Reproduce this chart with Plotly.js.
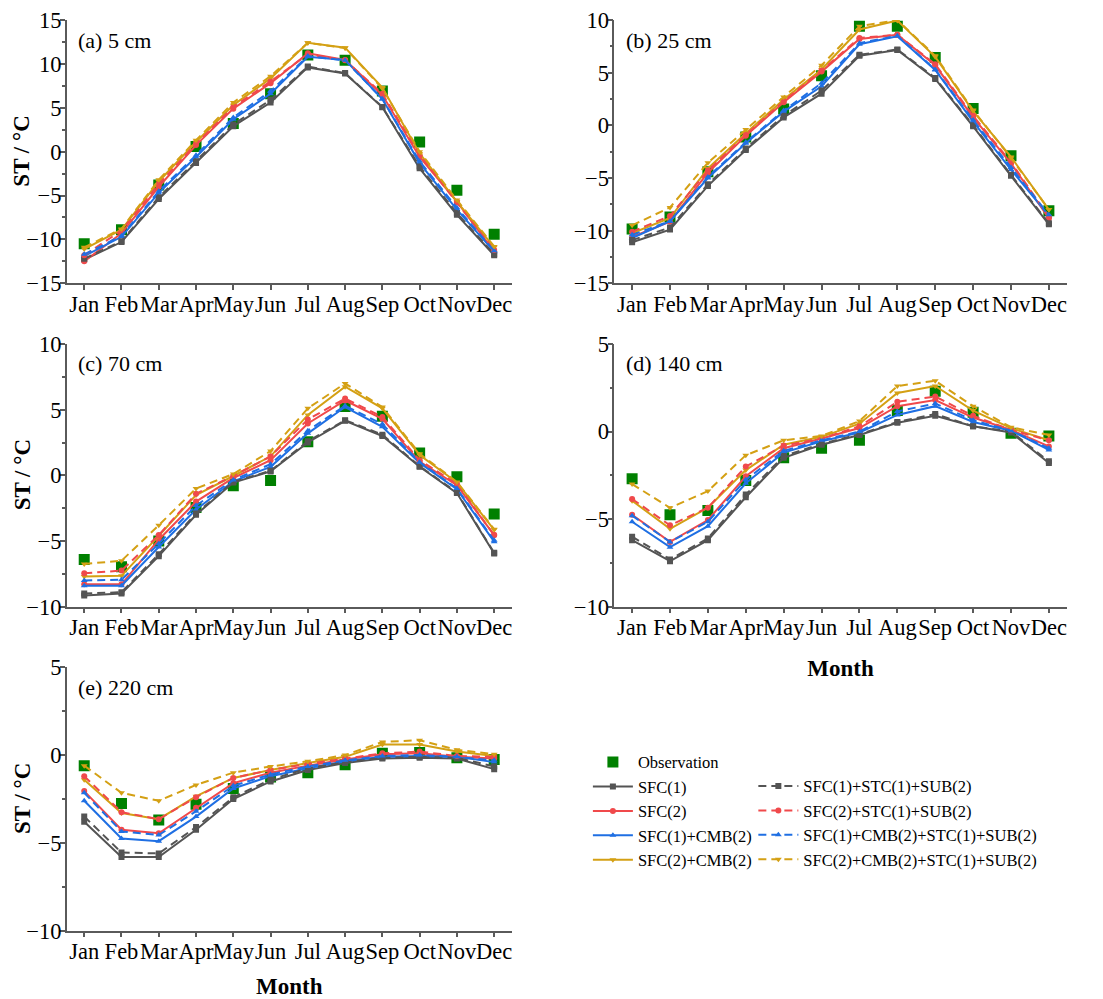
<!DOCTYPE html>
<html>
<head>
<meta charset="utf-8">
<script src="https://cdn.plot.ly/plotly-3.0.1.min.js"></script>
<style>html,body{margin:0;padding:0;background:#fff;}#chart{width:1103px;height:999px;}</style>
</head>
<body>
<div id="chart"></div>
<script>
const months = ['Jan','Feb','Mar','Apr','May','Jun','Jul','Aug','Sep','Oct','Nov','Dec'];

// (a) 5 cm
const obs_5          = [-10.5, -8.9, -3.8, 0.6, 3.2, 6.6, 11.0, 10.4, 6.9, 1.1, -4.4, -9.4];
const sfc1_5         = [-12.3, -10.3, -5.4, -1.3, 2.9, 5.6, 9.6, 8.9, 5.05, -1.9, -7.2, -11.8];
const sfc2_5         = [-12.5, -9.3, -4.0, 0.75, 4.9, 7.8, 11.2, 10.45, 6.45, -0.6, -5.7, -11.4];
const sfc1cmb2_5     = [-11.9, -9.7, -4.7, -0.6, 3.7, 6.6, 10.8, 10.45, 6.0, -1.3, -6.6, -11.4];
const sfc2cmb2_5     = [-11.1, -8.9, -3.4, 1.1, 5.3, 8.35, 12.4, 11.85, 7.3, -0.2, -5.7, -10.9];
const sfc1stc_5      = [-12.2, -10.2, -5.2, -1.1, 3.1, 5.9, 9.7, 8.95, 5.1, -1.7, -7.0, -11.7];
const sfc2stc_5      = [-11.8, -9.0, -3.7, 0.9, 5.1, 8.0, 11.1, 10.4, 6.6, -0.4, -5.8, -11.2];
const sfc1cmb2stc_5  = [-11.7, -9.6, -4.5, -0.4, 3.9, 6.9, 10.9, 10.4, 6.0, -1.1, -6.4, -11.3];
const sfc2cmb2stc_5  = [-10.9, -8.8, -3.2, 1.3, 5.6, 8.6, 12.4, 11.8, 7.2, 0.0, -5.5, -10.8];

// (b) 25 cm
const obs_25         = [-9.85, -8.7, -4.4, -1.1, 1.55, 4.7, 9.4, 9.4, 6.45, 1.6, -2.9, -8.1];
const sfc1_25        = [-11.1, -9.9, -5.75, -2.35, 0.75, 3.0, 6.6, 7.15, 4.4, -0.1, -4.8, -9.4];
const sfc2_25        = [-10.6, -9.15, -4.5, -1.0, 2.2, 5.1, 8.2, 8.6, 5.7, 0.75, -3.6, -8.85];
const sfc1cmb2_25    = [-10.7, -9.1, -5.0, -1.7, 1.3, 3.7, 7.7, 8.45, 5.25, 0.35, -4.2, -8.6];
const sfc2cmb2_25    = [-10.25, -8.8, -4.1, -0.75, 2.45, 5.3, 9.1, 9.95, 6.5, 1.35, -3.0, -8.0];
const sfc1stc_25     = [-10.9, -9.7, -5.6, -2.2, 0.9, 3.3, 6.7, 7.2, 4.5, 0.0, -4.7, -9.3];
const sfc2stc_25     = [-10.1, -8.6, -4.3, -0.9, 2.3, 5.2, 8.3, 8.6, 5.8, 0.9, -3.5, -8.7];
const sfc1cmb2stc_25 = [-10.4, -9.1, -4.9, -1.6, 1.4, 4.0, 7.8, 8.5, 5.3, 0.5, -4.0, -8.5];
const sfc2cmb2stc_25 = [-9.5, -7.8, -3.55, -0.4, 2.7, 5.7, 9.4, 10.0, 6.6, 1.45, -3.1, -8.0];

// (c) 70 cm
const obs_70         = [-6.4, -6.95, -5.0, -2.45, -0.8, -0.4, 2.55, 5.25, 4.5, 1.7, -0.1, -2.95];
const sfc1_70        = [-9.15, -9.0, -6.15, -3.0, -0.55, 0.3, 2.5, 4.15, 3.0, 0.65, -1.35, -5.95];
const sfc2_70        = [-8.3, -8.3, -4.9, -2.0, -0.2, 1.15, 3.95, 5.7, 4.3, 1.05, -0.75, -4.55];
const sfc1cmb2_70    = [-8.4, -8.4, -5.45, -2.6, -0.45, 0.65, 3.2, 5.2, 3.7, 0.95, -1.05, -5.05];
const sfc2cmb2_70    = [-7.7, -7.65, -4.6, -1.5, -0.05, 1.45, 4.6, 6.75, 5.1, 1.55, -0.55, -4.15];
const sfc1stc_70     = [-9.0, -8.9, -6.0, -2.9, -0.5, 0.35, 2.6, 4.2, 3.1, 0.7, -1.3, -5.9];
const sfc2stc_70     = [-7.45, -7.25, -4.55, -1.4, -0.05, 1.45, 4.25, 5.85, 4.45, 1.15, -0.65, -4.55];
const sfc1cmb2stc_70 = [-8.0, -7.95, -5.2, -2.3, -0.35, 0.85, 3.4, 5.3, 3.9, 1.0, -1.0, -4.95];
const sfc2cmb2stc_70 = [-6.75, -6.5, -3.8, -1.0, 0.1, 1.85, 5.1, 7.0, 5.2, 1.65, -0.5, -4.1];

// (d) 140 cm
const obs_140         = [-2.7, -4.75, -4.5, -2.8, -1.5, -0.95, -0.5, 1.2, 2.3, 1.1, -0.1, -0.25];
const sfc1_140        = [-6.2, -7.4, -6.2, -3.75, -1.5, -0.75, -0.2, 0.5, 0.9, 0.3, -0.05, -1.8];
const sfc2_140        = [-4.75, -6.3, -5.05, -2.55, -0.95, -0.4, 0.2, 1.45, 1.8, 0.8, 0.1, -0.85];
const sfc1cmb2_140    = [-5.15, -6.6, -5.4, -2.95, -1.2, -0.55, -0.05, 0.95, 1.45, 0.55, 0.05, -1.05];
const sfc2cmb2_140    = [-3.95, -5.55, -4.35, -2.2, -0.75, -0.3, 0.45, 2.2, 2.6, 1.2, 0.2, -0.5];
const sfc1stc_140     = [-6.0, -7.3, -6.1, -3.6, -1.4, -0.7, -0.15, 0.55, 1.0, 0.3, 0.0, -1.7];
const sfc2stc_140     = [-3.85, -5.35, -4.35, -2.0, -0.8, -0.4, 0.3, 1.7, 2.0, 0.9, 0.1, -0.5];
const sfc1cmb2stc_140 = [-4.8, -6.3, -5.15, -2.75, -1.1, -0.5, 0.0, 1.15, 1.6, 0.65, 0.05, -0.95];
const sfc2cmb2stc_140 = [-3.0, -4.35, -3.4, -1.35, -0.5, -0.25, 0.6, 2.6, 2.9, 1.45, 0.25, -0.2];

// (e) 220 cm
const obs_220         = [-0.6, -2.75, -3.7, -2.8, -1.9, -1.25, -1.0, -0.55, 0.1, 0.15, -0.15, -0.25];
const sfc1_220        = [-3.8, -5.8, -5.8, -4.25, -2.5, -1.5, -0.85, -0.45, -0.2, -0.15, -0.2, -0.8];
const sfc2_220        = [-2.05, -4.25, -4.45, -3.0, -1.6, -1.0, -0.6, -0.25, 0.05, 0.1, -0.1, -0.2];
const sfc1cmb2_220    = [-2.6, -4.75, -4.9, -3.5, -1.9, -1.2, -0.75, -0.35, -0.1, -0.05, -0.1, -0.4];
const sfc2cmb2_220    = [-1.4, -3.3, -3.65, -2.35, -1.3, -0.85, -0.45, -0.1, 0.6, 0.6, 0.2, -0.05];
const sfc1stc_220     = [-3.5, -5.55, -5.6, -4.1, -2.4, -1.4, -0.75, -0.4, -0.15, -0.1, -0.15, -0.65];
const sfc2stc_220     = [-1.2, -3.25, -3.65, -2.4, -1.3, -0.85, -0.5, -0.2, 0.1, 0.2, -0.05, -0.1];
const sfc1cmb2stc_220 = [-2.15, -4.35, -4.55, -3.2, -1.75, -1.1, -0.65, -0.3, -0.05, 0.0, -0.1, -0.3];
const sfc2cmb2stc_220 = [-0.6, -2.15, -2.6, -1.7, -1.0, -0.65, -0.35, 0.0, 0.75, 0.85, 0.3, 0.05];

const panelLabels = ['(a) 5 cm', '(b) 25 cm', '(c) 70 cm', '(d) 140 cm', '(e) 220 cm'];
const panels = [
  [obs_5, sfc1_5, sfc2_5, sfc1cmb2_5, sfc2cmb2_5, sfc1stc_5, sfc2stc_5, sfc1cmb2stc_5, sfc2cmb2stc_5],
  [obs_25, sfc1_25, sfc2_25, sfc1cmb2_25, sfc2cmb2_25, sfc1stc_25, sfc2stc_25, sfc1cmb2stc_25, sfc2cmb2stc_25],
  [obs_70, sfc1_70, sfc2_70, sfc1cmb2_70, sfc2cmb2_70, sfc1stc_70, sfc2stc_70, sfc1cmb2stc_70, sfc2cmb2stc_70],
  [obs_140, sfc1_140, sfc2_140, sfc1cmb2_140, sfc2cmb2_140, sfc1stc_140, sfc2stc_140, sfc1cmb2stc_140, sfc2cmb2stc_140],
  [obs_220, sfc1_220, sfc2_220, sfc1cmb2_220, sfc2cmb2_220, sfc1stc_220, sfc2stc_220, sfc1cmb2stc_220, sfc2cmb2stc_220]
];
const seriesNames = ['Observation', 'SFC(1)', 'SFC(2)', 'SFC(1)+CMB(2)', 'SFC(2)+CMB(2)',
  'SFC(1)+STC(1)+SUB(2)', 'SFC(2)+STC(1)+SUB(2)', 'SFC(1)+CMB(2)+STC(1)+SUB(2)', 'SFC(2)+CMB(2)+STC(1)+SUB(2)'];

const FONT = '"Liberation Serif", "Times New Roman", serif';
const C_OBS = '#008000', C_GRAY = '#545454', C_RED = '#f0494b', C_BLUE = '#1f6fe3', C_GOLD = '#d4a014';
const styles = [
  {color: C_OBS, symbol: 'square', dash: null},
  {color: C_GRAY, symbol: 'square', dash: 'solid'},
  {color: C_RED, symbol: 'circle', dash: 'solid'},
  {color: C_BLUE, symbol: 'triangle-up', dash: 'solid'},
  {color: C_GOLD, symbol: 'triangle-down', dash: 'solid'},
  {color: C_GRAY, symbol: 'square', dash: '8px,5px'},
  {color: C_RED, symbol: 'circle', dash: '8px,5px'},
  {color: C_BLUE, symbol: 'triangle-up', dash: '8px,5px'},
  {color: C_GOLD, symbol: 'triangle-down', dash: '8px,5px'}
];

const traces = [];
panels.forEach((series, p) => {
  const ax = p === 0 ? '' : String(p + 1);
  series.forEach((vals, s) => {
    const st = styles[s];
    const t = {
      x: months, y: vals, name: seriesNames[s],
      xaxis: 'x' + ax, yaxis: 'y' + ax,
      showlegend: p === 0,
      legend: s >= 5 ? 'legend2' : 'legend',
      hoverinfo: 'x+y+name'
    };
    if (s === 0) {
      t.mode = 'markers';
      t.marker = {symbol: 'square', size: 11, color: st.color};
    } else {
      t.mode = 'lines+markers';
      t.line = {color: st.color, width: 2, dash: st.dash};
      t.marker = {symbol: st.symbol, size: 6, color: st.color};
    }
    traces.push(t);
  });
});

const xDomL = [66.7 / 1103, 511.7 / 1103];
const xDomR = [614.3 / 1103, 1066.7 / 1103];
const yDom1 = [1 - 283.3 / 999, 1 - 20 / 999];
const yDom2 = [1 - 606.7 / 999, 1 - 344 / 999];
const yDom3 = [1 - 930.7 / 999, 1 - 667.3 / 999];
const domains = [[xDomL, yDom1], [xDomR, yDom1], [xDomL, yDom2], [xDomR, yDom2], [xDomL, yDom3]];
const yRanges = [[-15, 15], [-15, 10], [-10, 10], [-10, 5], [-10, 5]];
const yTitles = ['ST / °C', '', 'ST / °C', '', 'ST / °C'];
const xTitles = ['', '', '', 'Month', 'Month'];

const axisCommon = {
  showline: true, linecolor: '#5a5a5a', linewidth: 1.5,
  ticks: 'outside', ticklen: 5, tickwidth: 1.5, tickcolor: '#5a5a5a',
  tickfont: {family: FONT, size: 22.5, color: '#000'},
  showgrid: false, zeroline: false, automargin: false
};

const legendCommon = {xanchor: 'left', yanchor: 'top', font: {family: FONT, size: 16.5, color: '#000'},
  itemwidth: 40, tracegroupgap: 0, bgcolor: 'rgba(0,0,0,0)'};

const layout = {
  width: 1103, height: 999,
  margin: {l: 0, r: 0, t: 0, b: 0},
  paper_bgcolor: '#fff', plot_bgcolor: '#fff',
  font: {family: FONT, color: '#000'},
  legend: Object.assign({x: 0.533, y: 0.2545}, legendCommon),
  legend2: Object.assign({x: 0.683, y: 0.2305}, legendCommon),
  annotations: [],
  hovermode: 'closest'
};

domains.forEach((d, p) => {
  const ax = p === 0 ? '' : String(p + 1);
  layout['xaxis' + ax] = Object.assign({}, axisCommon, {
    domain: d[0], anchor: 'y' + ax, type: 'category', categoryorder: 'array', categoryarray: months,
    range: [-0.47, 11.47], tickangle: 0, ticklabelstandoff: -5,
    title: {text: xTitles[p] ? '<b>' + xTitles[p] + '</b>' : '', font: {family: FONT, size: 23, color: '#000'}, standoff: 20}
  });
  layout['yaxis' + ax] = Object.assign({}, axisCommon, {
    domain: d[1], anchor: 'x' + ax, range: yRanges[p], tick0: 0, dtick: 5, ticklabelstandoff: -6,
    minor: {dtick: 2.5, ticks: 'outside', ticklen: 3, tickwidth: 1.5, tickcolor: '#5a5a5a', showgrid: false}
  });
  if (yTitles[p]) {
    layout.annotations.push({
      xref: 'paper', yref: 'y' + ax + ' domain', x: 22 / 1103, y: 0.5,
      xanchor: 'center', yanchor: 'middle', textangle: -90, showarrow: false,
      text: '<b>' + yTitles[p] + '</b>', font: {family: FONT, size: 23, color: '#000'}
    });
  }
  layout.annotations.push({
    xref: 'x' + ax + ' domain', yref: 'y' + ax + ' domain', x: 0.021, y: 0.924,
    xanchor: 'left', yanchor: 'middle', showarrow: false, text: panelLabels[p],
    font: {family: FONT, size: 22, color: '#000'}
  });
});

Plotly.newPlot('chart', traces, layout, {displayModeBar: false, staticPlot: false});
</script>
</body>
</html>
